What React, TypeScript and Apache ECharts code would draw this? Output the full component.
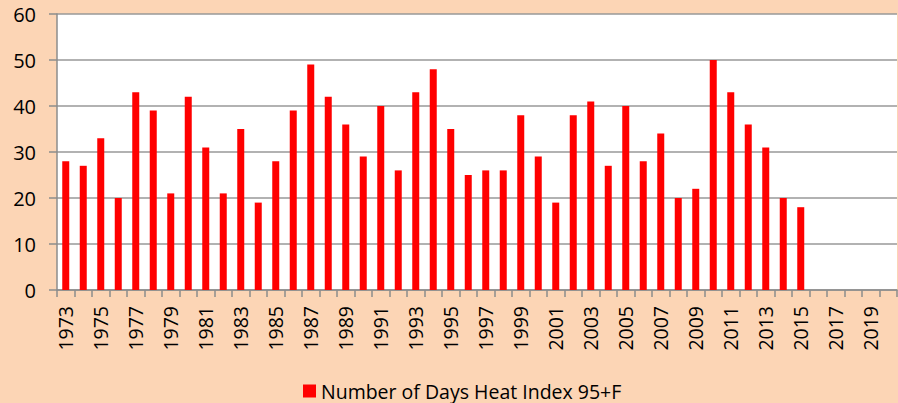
import React, { useEffect, useRef } from "react";
import * as echarts from "echarts";

const years: string[] = [];
for (let y = 1973; y <= 2020; y++) years.push(String(y));

const heatDays: (number | null)[] = [
  28, 27, 33, 20, 43, 39, 21, 42, 31, 21,
  35, 19, 28, 39, 49, 42, 36, 29, 40, 26,
  43, 48, 35, 25, 26, 26, 38, 29, 19, 38,
  41, 27, 40, 28, 34, 20, 22, 50, 43, 36,
  31, 20, 18, null, null, null, null, null,
];

const seriesName = "Number of Days Heat Index 95+F";
const yTicks = { min: 0, max: 60, interval: 10 };

export default function App() {
  const ref = useRef<HTMLDivElement>(null);
  useEffect(() => {
    if (!ref.current) return;
    const chart = echarts.init(ref.current, undefined, { renderer: "svg" });
    const font = "'Open Sans', sans-serif";
    chart.setOption({
      animation: false,
      backgroundColor: "#FCD5B5",
      grid: { left: 57, right: 1, top: 14, bottom: 113, containLabel: false, show: true, backgroundColor: "#FFFFFF", borderWidth: 0 },
      legend: {
        data: [seriesName],
        top: 376,
        left: 298,
        itemWidth: 13,
        itemHeight: 13,
        icon: "rect",
        itemGap: 6,
        textStyle: { fontFamily: font, fontSize: 19.5, color: "#000" },
      },
      xAxis: {
        type: "category",
        data: years,
        boundaryGap: true,
        axisLine: { lineStyle: { color: "#8C8C8C", width: 1.5 } },
        axisTick: { show: true, length: 7, interval: 0, lineStyle: { color: "#8C8C8C", width: 1.5 } },
        axisLabel: {
          interval: 1,
          rotate: 90,
          margin: 16,
          fontFamily: font,
          fontSize: 19.5,
          color: "#000",
        },
      },
      yAxis: {
        type: "value",
        min: yTicks.min,
        max: yTicks.max,
        interval: yTicks.interval,
        axisLine: { show: true, lineStyle: { color: "#8C8C8C", width: 1.5 } },
        axisTick: { show: true, length: 8, lineStyle: { color: "#8C8C8C", width: 1.5 } },
        axisLabel: { margin: 21, fontFamily: font, fontSize: 20, color: "#000" },
        splitLine: { show: true, lineStyle: { color: "#999999", width: 1.5 } },
      },
      series: [
        {
          name: seriesName,
          type: "bar",
          data: heatDays,
          barWidth: 7,
          itemStyle: { color: "#FF0000" },
        },
      ],
    });
    return () => chart.dispose();
  }, []);
  return <div ref={ref} style={{ position: "fixed", left: 0, top: 0, width: 898, height: 403 }} />;
}
